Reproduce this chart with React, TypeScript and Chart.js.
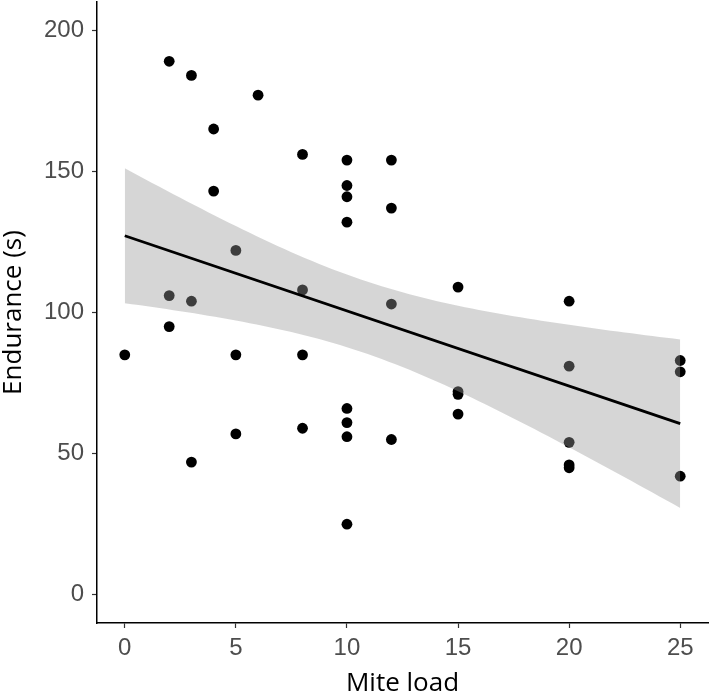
import React, { useEffect, useRef } from 'react';
import { Chart, registerables } from 'chart.js';

Chart.register(...registerables);

// Observations (mite load, endurance in seconds)
const miteLoad = [
  0,
  2, 2, 2,
  3, 3, 3,
  4, 4,
  5, 5, 5,
  6,
  8, 8, 8, 8,
  10, 10, 10, 10, 10, 10, 10, 10,
  12, 12, 12, 12,
  15, 15, 15, 15,
  20, 20, 20, 20, 20,
  25, 25, 25,
];
const endurance = [
  85,
  189, 106, 95,
  184, 104, 47,
  165, 143,
  122, 85, 57,
  177,
  156, 108, 85, 59,
  154, 145, 141, 132, 66, 61, 56, 25,
  154, 137, 103, 55,
  109, 72, 71, 64,
  104, 81, 54, 46, 45,
  83, 79, 42,
];

const xTicks = [0, 5, 10, 15, 20, 25];
const yTicks = [0, 50, 100, 150, 200];
const xLimits = [-1.25, 26.25];
const yLimits = [-10, 210];
const tCritical = 2.0227; // t(0.975, df = n - 2 = 39)
const bandSteps = 80;

function fitLinear(xs: number[], ys: number[]) {
  const n = xs.length;
  const mx = xs.reduce((a, b) => a + b, 0) / n;
  const my = ys.reduce((a, b) => a + b, 0) / n;
  let sxx = 0;
  let sxy = 0;
  for (let i = 0; i < n; i++) {
    sxx += (xs[i] - mx) * (xs[i] - mx);
    sxy += (xs[i] - mx) * (ys[i] - my);
  }
  const slope = sxy / sxx;
  const intercept = my - slope * mx;
  let rss = 0;
  for (let i = 0; i < n; i++) {
    const r = ys[i] - (intercept + slope * xs[i]);
    rss += r * r;
  }
  const s = Math.sqrt(rss / (n - 2));
  return { n, mx, sxx, slope, intercept, s };
}

export default function App() {
  const canvasRef = useRef<HTMLCanvasElement | null>(null);

  useEffect(() => {
    const canvas = canvasRef.current;
    if (!canvas) return;

    const fit = fitLinear(miteLoad, endurance);
    const xMin = Math.min(...miteLoad);
    const xMax = Math.max(...miteLoad);
    const upper: { x: number; y: number }[] = [];
    const lower: { x: number; y: number }[] = [];
    for (let i = 0; i <= bandSteps; i++) {
      const x0 = xMin + ((xMax - xMin) * i) / bandSteps;
      const yhat = fit.intercept + fit.slope * x0;
      const se = fit.s * Math.sqrt(1 / fit.n + ((x0 - fit.mx) * (x0 - fit.mx)) / fit.sxx);
      upper.push({ x: x0, y: yhat + tCritical * se });
      lower.push({ x: x0, y: yhat - tCritical * se });
    }
    const fitLine = [
      { x: xMin, y: fit.intercept + fit.slope * xMin },
      { x: xMax, y: fit.intercept + fit.slope * xMax },
    ];
    const points = miteLoad.map((x, i) => ({ x, y: endurance[i] }));

    const tickFont = { family: '"Liberation Sans", Arial, Helvetica, sans-serif', size: 24 };
    const titleFont = { family: '"Open Sans", "Noto Sans", sans-serif', size: 26, lineHeight: 1 };

    const zeroPad = (scale: any) => {
      scale.paddingTop = 0;
      scale.paddingBottom = 0;
      scale.paddingLeft = 0;
      scale.paddingRight = 0;
    };

    const chart = new Chart(canvas, {
      type: 'scatter',
      data: {
        datasets: [
          {
            type: 'line',
            data: fitLine,
            borderColor: '#000000',
            borderWidth: 2.8,
            pointRadius: 0,
            fill: false,
          } as any,
          {
            type: 'line',
            data: upper,
            borderColor: 'transparent',
            borderWidth: 0,
            pointRadius: 0,
            backgroundColor: 'rgba(153,153,153,0.4)',
            fill: '+1',
          } as any,
          {
            type: 'line',
            data: lower,
            borderColor: 'transparent',
            borderWidth: 0,
            pointRadius: 0,
            fill: false,
          } as any,
          {
            type: 'scatter',
            data: points,
            backgroundColor: '#000000',
            borderWidth: 0,
            pointRadius: 5.4,
          } as any,
        ],
      },
      options: {
        animation: false,
        responsive: false,
        events: [],
        layout: { autoPadding: false, padding: { top: 2, right: 1, left: 0, bottom: 0 } },
        plugins: {
          legend: { display: false },
          tooltip: { enabled: false },
        },
        scales: {
          x: {
            type: 'linear',
            min: xLimits[0],
            max: xLimits[1],
            afterBuildTicks: (scale: any) => {
              scale.ticks = xTicks.map((v) => ({ value: v }));
            },
            afterFit: (scale: any) => {
              scale.height = 71;
              zeroPad(scale);
            },
            grid: {
              display: true,
              drawOnChartArea: false,
              drawTicks: true,
              tickLength: 5,
              tickColor: '#333333',
              tickWidth: 1.2,
            },
            border: { display: true, color: '#000000', width: 1.5 },
            ticks: { font: tickFont, color: '#4d4d4d', padding: 6, maxRotation: 0 },
            title: {
              display: true,
              text: 'Mite load',
              color: '#000000',
              font: titleFont,
              padding: { top: 0, bottom: -3 },
            },
          },
          y: {
            type: 'linear',
            min: yLimits[0],
            max: yLimits[1],
            afterBuildTicks: (scale: any) => {
              scale.ticks = yTicks.map((v) => ({ value: v }));
            },
            afterFit: (scale: any) => {
              scale.width = 97;
              zeroPad(scale);
            },
            grid: {
              display: true,
              drawOnChartArea: false,
              drawTicks: true,
              tickLength: 5,
              tickColor: '#333333',
              tickWidth: 1.2,
            },
            border: { display: true, color: '#000000', width: 1.5 },
            ticks: { font: tickFont, color: '#4d4d4d', padding: 8 },
            title: {
              display: true,
              text: 'Endurance (s)',
              color: '#000000',
              font: titleFont,
              padding: { top: 1, bottom: 0 },
            },
          },
        },
      } as any,
    });

    return () => {
      chart.destroy();
    };
  }, []);

  return (
    <div style={{ position: 'absolute', left: 0, top: 0, width: 709, height: 694, background: '#ffffff' }}>
      <canvas ref={canvasRef} width={709} height={694} style={{ display: 'block' }} />
    </div>
  );
}
